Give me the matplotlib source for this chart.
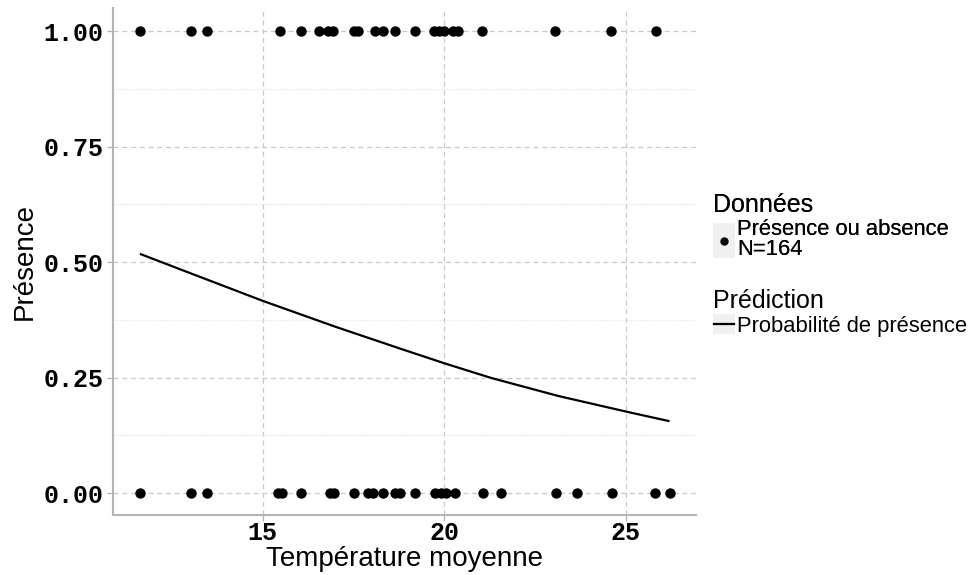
import numpy as np
import matplotlib
matplotlib.use("Agg")
import matplotlib.pyplot as plt
from matplotlib.lines import Line2D
from matplotlib.patches import Rectangle
from matplotlib.legend_handler import HandlerBase

# observed presence (1) / absence (0) by mean temperature
temp_presence = [11.61, 13.01, 13.45, 15.46, 16.05, 16.56, 16.79, 16.93, 17.52, 17.62,
                 18.08, 18.31, 18.65, 19.20, 19.72, 19.86, 20.00, 20.25, 20.39, 21.05,
                 23.04, 24.59, 25.83]
temp_absence = [11.61, 13.01, 13.45, 15.43, 15.52, 16.05, 16.85, 16.95, 17.52, 17.91,
                18.05, 18.31, 18.65, 18.78, 19.20, 19.75, 19.92, 20.06, 20.30, 21.07,
                21.56, 23.07, 23.67, 24.61, 25.81, 26.21]

# predicted probability
pred_temp = [11.64, 13.0, 15.0, 17.0, 18.81, 20.0, 21.3, 23.15, 25.03, 26.18]
pred_prob = [0.517, 0.476, 0.416, 0.360, 0.312, 0.281, 0.249, 0.210, 0.176, 0.156]

yticks = [0.0, 0.25, 0.5, 0.75, 1.0]
xticks = [15, 20, 25]

mono = "Liberation Mono"
sans = "Liberation Sans"

fig = plt.figure(figsize=(9.74, 5.75), dpi=100)
ax = fig.add_axes([0.116, 0.104, 0.599, 0.882])

# grid like ggplot
ax.set_yticks([0.125, 0.375, 0.625, 0.875], minor=True)
ax.grid(True, which="major", color="#c8c8c8", linestyle=(0, (4, 3)), linewidth=0.9)
ax.grid(True, which="minor", axis="y", color="#e4e4e4", linestyle=(0, (1, 1)), linewidth=0.8)
ax.set_axisbelow(True)

ax.scatter(temp_presence, np.ones(len(temp_presence)), s=56, color="black", zorder=3, linewidths=0)
ax.scatter(temp_absence, np.zeros(len(temp_absence)), s=56, color="black", zorder=3, linewidths=0)
ax.plot(pred_temp, pred_prob, color="black", linewidth=1.6, zorder=3)

ax.set_xlim(10.87, 26.95)
ax.set_ylim(-0.048, 1.05)
ax.set_xticks(xticks)
ax.set_yticks(yticks)
ax.set_xticklabels([str(t) for t in xticks], fontfamily=mono, fontweight="bold", fontsize=18)
ax.set_yticklabels(["%.2f" % t for t in yticks], fontfamily=mono, fontweight="bold", fontsize=18)
ax.tick_params(which="major", length=4, color="#b0b0b0", width=0.9, pad=3)
ax.tick_params(axis="x", which="major", pad=0)
ax.tick_params(which="minor", length=0)

for s in ["top", "right"]:
    ax.spines[s].set_visible(False)
for s in ["left", "bottom"]:
    ax.spines[s].set_color("#b4b4b4")
    ax.spines[s].set_linewidth(1.5)

ax.set_xlabel("Température moyenne", fontfamily=sans, fontsize=20, labelpad=1)
ax.set_ylabel("Présence", fontfamily=sans, fontsize=20, labelpad=4)


class KeyHandler(HandlerBase):
    def __init__(self, kind):
        super().__init__()
        self.kind = kind

    def create_artists(self, legend, orig_handle, xdescent, ydescent, width, height, fontsize, trans):
        box = Rectangle((-xdescent, -ydescent), width, height, facecolor="#f0f0f0",
                        edgecolor="none", transform=trans)
        cx = -xdescent + width / 2
        cy = -ydescent + height / 2
        if self.kind == "point":
            mark = Line2D([cx], [cy], marker="o", markersize=5, color="black", linestyle="none",
                          transform=trans)
        else:
            mark = Line2D([-xdescent + 1, -xdescent + width - 1], [cy, cy], color="black",
                          linewidth=1.6, transform=trans)
        return [box, mark]


pt = Line2D([], [], marker="o", color="black", linestyle="none")
ln = Line2D([], [], color="black")

leg1 = fig.legend([pt], ["Présence ou absence\nN=164"], title="Données",
                  loc="upper left", bbox_to_anchor=(0.732, 0.665), frameon=False,
                  handler_map={pt: KeyHandler("point")}, handlelength=1.0, handleheight=2.1,
                  handletextpad=0.1, borderpad=0, borderaxespad=0, labelspacing=0.1,
                  prop={"family": sans, "size": 15.8},
                  title_fontproperties={"family": sans, "size": 18})
leg1._legend_box.align = "left"
for t in leg1.get_texts():
    t.set_linespacing(0.95)
fig.add_artist(leg1)

leg2 = fig.legend([ln], ["Probabilité de présence"], title="Prédiction",
                  loc="upper left", bbox_to_anchor=(0.732, 0.497), frameon=False,
                  handler_map={ln: KeyHandler("line")}, handlelength=1.0, handleheight=1.0,
                  handletextpad=0.1, borderpad=0, borderaxespad=0, labelspacing=0.05,
                  prop={"family": sans, "size": 15.8},
                  title_fontproperties={"family": sans, "size": 18})
leg2._legend_box.align = "left"

fig.savefig("out.png", dpi=100, facecolor="white")
